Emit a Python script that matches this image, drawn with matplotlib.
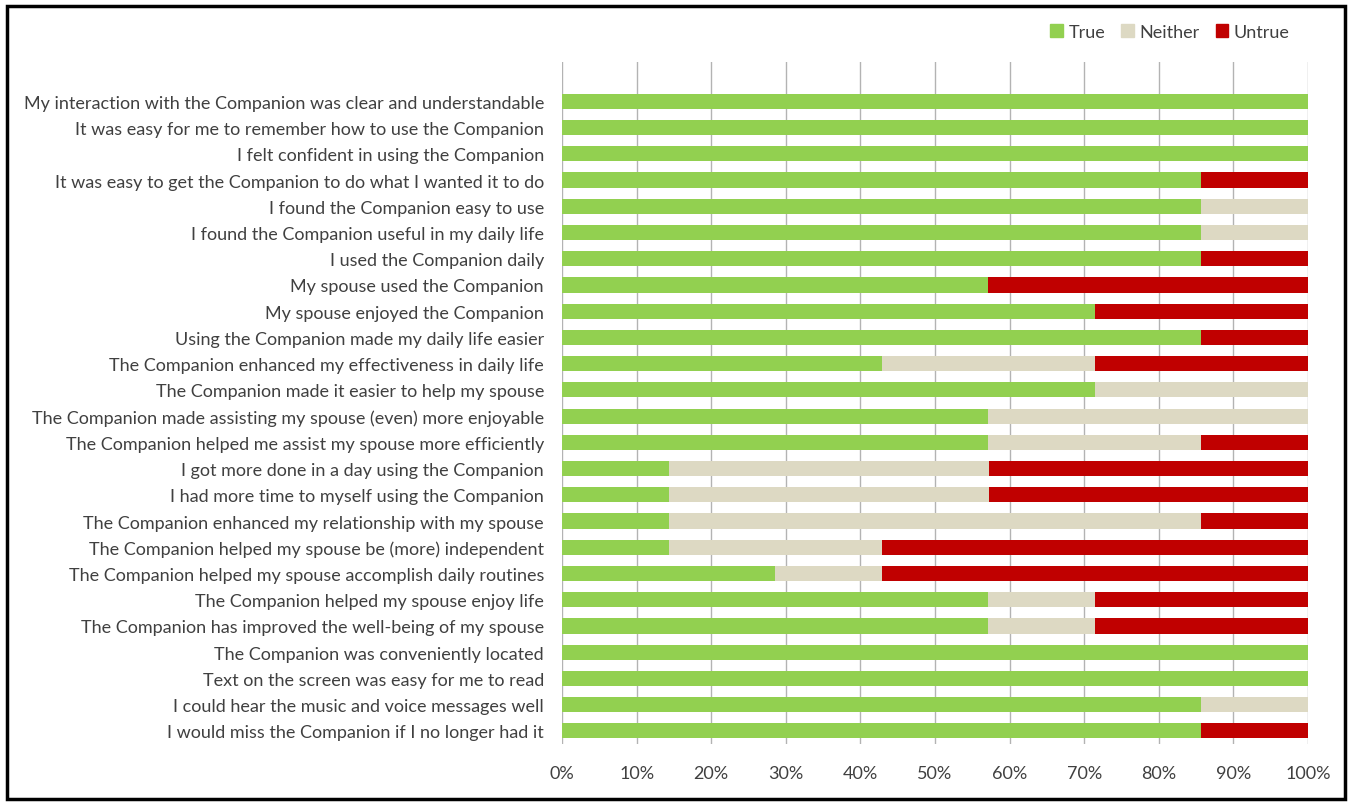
import matplotlib
matplotlib.use("Agg")
import matplotlib.pyplot as plt
from matplotlib.patches import Rectangle, Patch
from matplotlib.ticker import PercentFormatter, MultipleLocator

plt.rcParams['font.family'] = ['Lato', 'DejaVu Sans']

statements = [
    "My interaction with the Companion was clear and understandable",
    "It was easy for me to remember how to use the Companion",
    "I felt confident in using the Companion",
    "It was easy to get the Companion to do what I wanted it to do",
    "I found the Companion easy to use",
    "I found the Companion useful in my daily life",
    "I used the Companion daily",
    "My spouse used the Companion",
    "My spouse enjoyed the Companion",
    "Using the Companion made my daily life easier",
    "The Companion enhanced my effectiveness in daily life",
    "The Companion made it easier to help my spouse",
    "The Companion made assisting my spouse (even) more enjoyable",
    "The Companion helped me assist my spouse more efficiently",
    "I got more done in a day using the Companion",
    "I had more time to myself using the Companion",
    "The Companion enhanced my relationship with my spouse",
    "The Companion helped my spouse be (more) independent",
    "The Companion helped my spouse accomplish daily routines",
    "The Companion helped my spouse enjoy life",
    "The Companion has improved the well-being of my spouse",
    "The Companion was conveniently located",
    "Text on the screen was easy for me to read",
    "I could hear the music and voice messages well",
    "I would miss the Companion if I no longer had it",
]
true_pct = [100, 100, 100, 85.7, 85.7, 85.7, 85.7, 57.1, 71.4, 85.7, 42.9, 71.4, 57.1,
            57.1, 14.3, 14.3, 14.3, 14.3, 28.6, 57.1, 57.1, 100, 100, 85.7, 85.7]
neither_pct = [0, 0, 0, 0, 14.3, 14.3, 0, 0, 0, 0, 28.6, 28.6, 42.9,
               28.6, 42.9, 42.9, 71.4, 28.6, 14.3, 14.3, 14.3, 0, 0, 14.3, 0]
untrue_pct = [0, 0, 0, 14.3, 0, 0, 14.3, 42.9, 28.6, 14.3, 28.6, 0, 0,
              14.3, 42.8, 42.8, 14.3, 57.1, 57.1, 28.6, 28.6, 0, 0, 0, 14.3]
series_names = ["True", "Neither", "Untrue"]
colors = ["#92d050", "#ddd9c3", "#c00000"]

fig = plt.figure(figsize=(13.48, 8.04), dpi=100)
ax = fig.add_axes([562/1348, 1-745/804, (1308-562)/1348, (745-63)/804])

y = list(range(len(statements)))
left = [0]*len(statements)
for vals, name, col in zip([true_pct, neither_pct, untrue_pct], series_names, colors):
    ax.barh(y, vals, left=left, height=0.58, color=col, label=name, zorder=3)
    left = [a+b for a, b in zip(left, vals)]

ax.set_xlim(0, 100)
ax.set_ylim(len(statements)-0.5, -1.5)
ax.set_yticks(y)
ax.set_yticklabels(statements, fontsize=13, color="#404040")
ax.xaxis.set_major_locator(MultipleLocator(10))
ax.xaxis.set_major_formatter(PercentFormatter(decimals=0))
ax.tick_params(axis='x', labelsize=13, labelcolor="#404040", length=0, pad=15)
ax.tick_params(axis='y', length=0, pad=13)
ax.grid(axis='x', color="#b3b3b3", linewidth=1.0, zorder=0)
for s in ax.spines.values():
    s.set_visible(False)

handles = [Patch(color=c, label=n) for n, c in zip(series_names, colors)]
fig.legend(handles=handles, loc='center', bbox_to_anchor=(1170/1348, 1-33/804), ncol=3,
           frameon=False, fontsize=13, handlelength=0.7, handleheight=0.7,
           handletextpad=0.3, columnspacing=0.9, labelcolor="#404040")

fig.patches.append(Rectangle((7/1348, 4/804), 1338/1348, 793/804, transform=fig.transFigure,
                             fill=False, edgecolor="black", linewidth=2.5))

fig.savefig("out.png", dpi=100, facecolor="white")
